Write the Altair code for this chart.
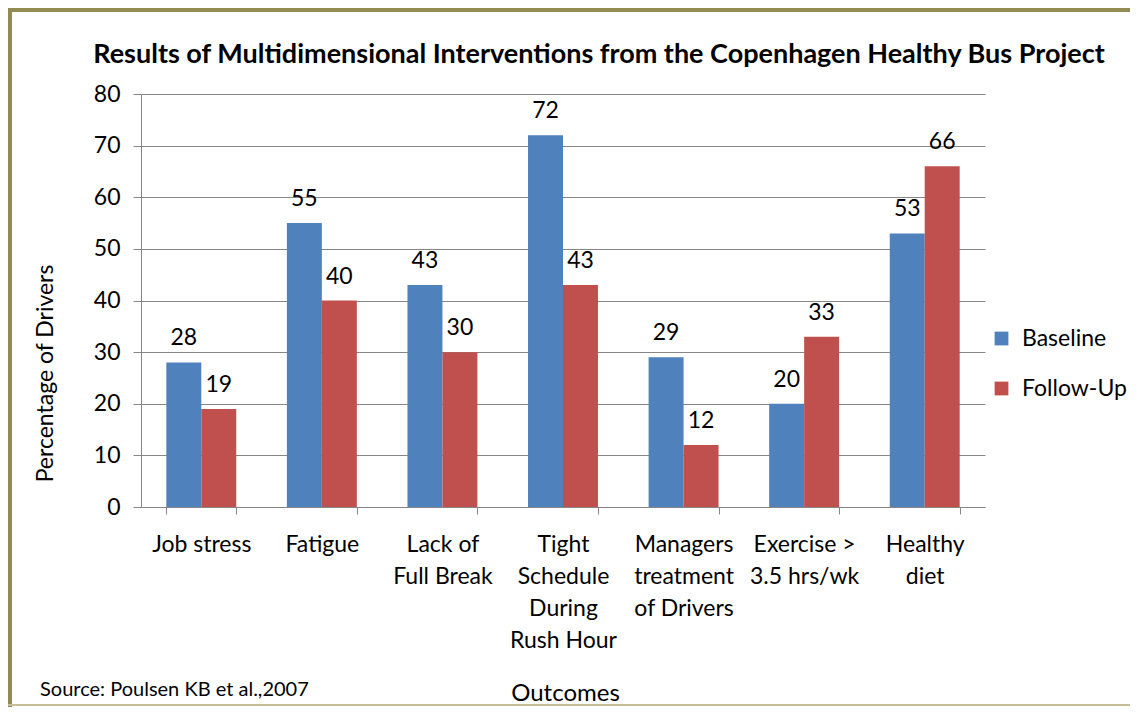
import altair as alt
import pandas as pd

# ---- data ----
categories = [
    "Job stress",
    "Fatigue",
    "Lack of\nFull Break",
    "Tight\nSchedule\nDuring\nRush Hour",
    "Managers\ntreatment\nof Drivers",
    "Exercise >\n3.5 hrs/wk",
    "Healthy\ndiet",
]
series_names = ["Baseline", "Follow-Up"]
baseline_values = [28, 55, 43, 72, 29, 20, 53]
followup_values = [19, 40, 30, 43, 12, 33, 66]
y_ticks = [0, 10, 20, 30, 40, 50, 60, 70, 80]

title_text = "Results of Multidimensional Interventions from the Copenhagen Healthy Bus Project"
source_text = "Source: Poulsen KB et al.,2007"

rows = []
for c, b, f in zip(categories, baseline_values, followup_values):
    rows.append({"Outcome": c, "Series": series_names[0], "Value": b})
    rows.append({"Outcome": c, "Series": series_names[1], "Value": f})
df = pd.DataFrame(rows)

# ---- styling ----
FONT = "Lato"
BLUE = "#4F81BD"
RED = "#C0504D"
GRID = "#868686"
OLIVE = "#948A54"
KHAKI = "#C4BD97"
TXT = "#000000"
W, H = 844, 413
PAD = {"left": 133, "top": 86, "right": 145, "bottom": 200}

x_enc = alt.X(
    "Outcome:N",
    sort=categories,
    scale=alt.Scale(paddingInner=0.42, paddingOuter=0.21),
    axis=alt.Axis(
        title="Outcomes",
        titleFont=FONT,
        titleFontSize=24,
        titleFontWeight="normal",
        titleColor=TXT,
        titleX=W / 2 + 2,
        titleY=186,
        titleAlign="center",
        titleBaseline="middle",
        labelAngle=0,
        labelExpr="split(datum.label, '\\n')",
        labelFont=FONT,
        labelFontSize=23,
        labelColor=TXT,
        labelBaseline="top",
        labelLineHeight=32,
        labelPadding=19,
        tickBand="extent",
        tickSize=7,
        tickColor=GRID,
        domainColor=GRID,
        grid=False,
    ),
)
y_enc = alt.Y(
    "Value:Q",
    scale=alt.Scale(domain=[0, 80], nice=False),
    axis=alt.Axis(
        title="Percentage of Drivers",
        titleFont=FONT,
        titleFontSize=23,
        titleFontWeight="normal",
        titleColor=TXT,
        titleAngle=270,
        titleX=-96,
        titleY=279,
        titleAlign="center",
        titleBaseline="middle",
        values=y_ticks,
        labelFont=FONT,
        labelFontSize=23,
        labelColor=TXT,
        labelPadding=13,
        tickSize=8,
        tickColor=GRID,
        domainColor=GRID,
        grid=True,
        gridColor=GRID,
        gridOpacity=1,
    ),
)
xoff = alt.XOffset("Series:N", sort=series_names)
color = alt.Color(
    "Series:N",
    sort=series_names,
    scale=alt.Scale(domain=series_names, range=[BLUE, RED]),
    legend=alt.Legend(
        title=None,
        orient="none",
        legendX=849,
        legendY=233,
        symbolType="square",
        symbolSize=190,
        symbolStrokeWidth=0,
        symbolOpacity=1,
        labelFont=FONT,
        labelFontSize=23,
        labelColor=TXT,
        labelOffset=9,
        rowPadding=26,
        padding=0,
    ),
)

base = alt.Chart(df)
bars = base.mark_bar().encode(x=x_enc, xOffset=xoff, y=y_enc, color=color)
labels = base.mark_text(
    font=FONT, fontSize=23, color=TXT, baseline="alphabetic", dy=-17
).encode(x=x_enc, xOffset=xoff, y=y_enc, text=alt.Text("Value:Q"))

one = pd.DataFrame({"k": [0]})
frame_top = alt.Chart(one).mark_rule(color=OLIVE, strokeWidth=5).encode(
    x=alt.value(-PAD["left"]), x2=alt.value(W + PAD["right"]), y=alt.value(-PAD["top"] + 1.5)
)
frame_left = alt.Chart(one).mark_rule(color=OLIVE, strokeWidth=5).encode(
    x=alt.value(-PAD["left"] + 1.5), y=alt.value(-PAD["top"]), y2=alt.value(H + PAD["bottom"])
)
frame_bottom = alt.Chart(one).mark_rule(color=KHAKI, strokeWidth=2).encode(
    x=alt.value(-PAD["left"]), x2=alt.value(W + PAD["right"]), y=alt.value(H + PAD["bottom"] - 2)
)
source = alt.Chart(one).mark_text(
    font=FONT, fontSize=20, color=TXT, align="left", baseline="middle"
).encode(x=alt.value(-101), y=alt.value(596), text=alt.value(source_text))
title = alt.Chart(one).mark_text(
    font=FONT, fontSize=27, fontWeight="bold", color=TXT, align="center", baseline="alphabetic"
).encode(x=alt.value(458), y=alt.value(-31), text=alt.value(title_text))

chart = (
    alt.layer(bars, labels, source, title, frame_top, frame_left, frame_bottom)
    .properties(
        width=W,
        height=H,
        autosize=alt.AutoSizeParams(type="none"),
        padding=PAD,
    )
    .configure_view(strokeWidth=0)
)

chart.save("out.html", embed_options={"renderer": "svg", "actions": False})
